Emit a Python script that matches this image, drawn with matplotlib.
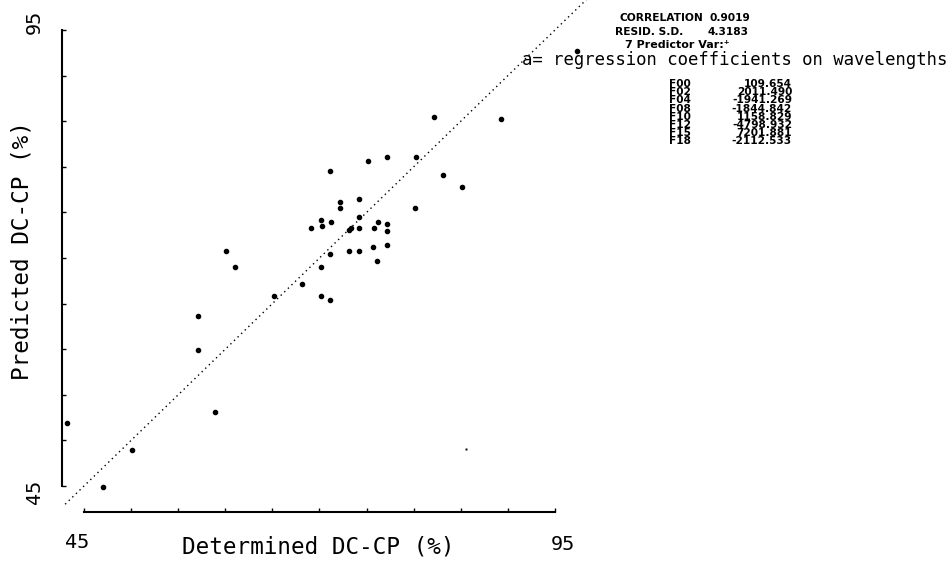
import matplotlib
matplotlib.use("Agg")
import matplotlib.pyplot as plt
import matplotlib.transforms as mtransforms

# Determined vs predicted DC-CP (%) for the calibration samples
determined = [97.37, 82.19, 89.30, 71.11, 75.18, 77.20, 80.24, 83.08, 85.16,
              72.18, 72.14, 74.16, 80.14, 70.13, 69.13, 70.30, 71.19, 74.16,
              76.18, 77.13, 73.10, 73.34, 74.16, 75.79, 77.20, 75.71, 77.13,
              73.13, 74.16, 71.15, 76.14, 70.13, 68.11, 70.13, 71.08, 65.17,
              60.07, 61.06, 57.10, 57.07, 58.94, 43.16, 50.06, 47.05]
predicted = [92.70, 85.43, 85.27, 79.57, 80.67, 81.11, 81.11, 79.07, 77.79,
             76.17, 75.52, 76.50, 75.52, 74.17, 73.32, 73.54, 73.91, 74.53,
             73.98, 73.70, 73.07, 73.26, 73.26, 73.26, 72.96, 71.24, 71.46,
             70.77, 70.73, 70.47, 69.64, 69.01, 67.12, 65.83, 65.36, 65.87,
             70.73, 68.98, 63.67, 59.91, 53.08, 51.91, 48.95, 44.92]
# faint isolated sample
faint_determined = [85.55]
faint_predicted = [49.09]

axis_min, axis_max = 45, 95
tick_values = list(range(45, 96, 5))
identity_range = [43.0, 98.4]

stat_names = ["CORRELATION", "RESID. S.D."]
stat_values = ["0.9019", "4.3183"]
predictor_note = "7 Predictor Var:\u207a"
coef_title = "a= regression coefficients on wavelengths"
coef_names = ["F00", "F02", "F04", "F08", "F10", "F12", "F15", "F18"]
coef_values = ["109.654", "2011.490", "-1941.269", "-1844.842",
               "1158.829", "-4798.932", "7201.881", "-2112.533"]

W, H = 951, 561
fig = plt.figure(figsize=(W / 100, H / 100), dpi=100)
mono = ["DejaVu Sans Mono"]
small = ["DejaVu Sans"]

def fx(px):
    return px / W

def fy(py):
    return 1 - py / H

ax = fig.add_axes([fx(84), fy(486), (555 - 84) / W, (486 - 30) / H])
ax.set_xlim(axis_min, axis_max)
ax.set_ylim(axis_min, axis_max)
ax.patch.set_alpha(0)

for side in ("top", "right"):
    ax.spines[side].set_visible(False)
ax.spines["left"].set_position(("outward", 22 * 0.72))
ax.spines["bottom"].set_position(("outward", 26 * 0.72))
ax.spines["left"].set_bounds(axis_min, axis_max)
ax.spines["bottom"].set_bounds(axis_min, axis_max)
for side in ("left", "bottom"):
    ax.spines[side].set_linewidth(1.5)

ax.set_xticks(tick_values)
ax.set_yticks(tick_values)
ax.tick_params(direction="in", length=3, width=1.0, labelleft=False,
               labelbottom=False)

# identity line
ax.plot(identity_range, identity_range, color="black", lw=1.0,
        ls=(0, (1, 2.6)), clip_on=False)

ax.plot(determined, predicted, "o", color="black", ms=3.0, mec="black",
        clip_on=False)
ax.plot(faint_determined, faint_predicted, "s", color="black", ms=1.4,
        mew=0, clip_on=False)

# end labels of the scales
xlab_tr = mtransforms.blended_transform_factory(ax.transData, ax.transAxes)
ax.text(axis_min - 0.75, (486 - 543) / 456, str(axis_min), transform=xlab_tr,
        ha="center", va="center", fontsize=14.5, family=mono)
ax.text(axis_max + 0.85, (486 - 544) / 456, str(axis_max), transform=xlab_tr,
        ha="center", va="center", fontsize=14.5, family=mono)
ylab_tr = mtransforms.blended_transform_factory(ax.transAxes, ax.transData)
ax.text((34 - 84) / 471, axis_max + 0.88, str(axis_max), transform=ylab_tr,
        ha="center", va="center", rotation=90, fontsize=14.5, family=mono)
ax.text((34 - 84) / 471, axis_min - 0.66, str(axis_min), transform=ylab_tr,
        ha="center", va="center", rotation=90, fontsize=14.5, family=mono)

fig.text(fx(318), fy(547), "Determined DC-CP (%)", ha="center", va="center",
         fontsize=16.3, family=mono)
fig.text(fx(22), fy(251), "Predicted DC-CP (%)", ha="center", va="center",
         rotation=90, fontsize=16.3, family=mono)

# regression summary
fig.text(fx(620), fy(18), stat_names[0], ha="left", va="center",
         fontsize=7.7, fontweight="bold", family=small)
fig.text(fx(710), fy(18), stat_values[0], ha="left", va="center",
         fontsize=7.7, fontweight="bold", family=small)
fig.text(fx(615), fy(32), stat_names[1], ha="left", va="center",
         fontsize=7.7, fontweight="bold", family=small)
fig.text(fx(708), fy(32), stat_values[1], ha="left", va="center",
         fontsize=7.7, fontweight="bold", family=small)
fig.text(fx(625), fy(45), predictor_note, ha="left", va="center",
         fontsize=8.0, fontweight="bold", family=small)
fig.text(fx(522), fy(60), coef_title, ha="left", va="center",
         fontsize=12.4, family=mono)

row0, row_step = 84, 8.2
for i, (name, val) in enumerate(zip(coef_names, coef_values)):
    y = fy(row0 + i * row_step)
    fig.text(fx(669), y, name, ha="left", va="center", fontsize=7.6,
             fontweight="bold", family=small)
    fig.text(fx(792), y, val, ha="right", va="center", fontsize=7.6,
             fontweight="bold", family=small)

fig.savefig("out.png", dpi=100)
